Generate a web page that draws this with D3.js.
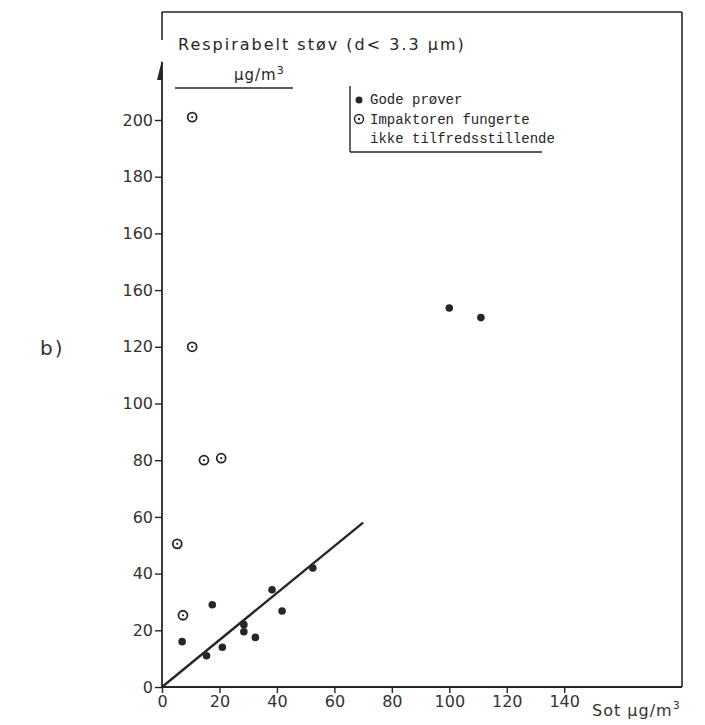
<!DOCTYPE html>
<html>
<head>
<meta charset="utf-8">
<script src="https://cdn.jsdelivr.net/npm/d3@7"></script>
<style>
  body { margin: 0; background: #fff; }
</style>
</head>
<body>
<div id="container"></div>
<script>
// data (b)
let goodX = [7, 17.5, 15.5, 21, 28.5, 28.5, 32.5, 38.3, 41.8, 52.5, 100, 111];
let goodY = [16, 29, 11, 14, 22, 19.5, 17.5, 34.3, 26.8, 42, 133.7, 130.3];
let badX = [10.5, 10.5, 5.3, 7.3, 14.6, 20.6];
let badY = [201, 120, 50.5, 25.3, 80, 80.7];
let fitX = [0, 70];
let fitY = [0, 58];
let xTicks = [0, 20, 40, 60, 80, 100, 120, 140];
let yTicks = [0, 20, 40, 60, 80, 100, 120, 140, 160, 180, 200];
// the original has "160" printed twice (140 is mislabelled)
let yTickLabels = ["0", "20", "40", "60", "80", "100", "120", "160", "160", "180", "200"];
let legendLabels = ["Gode prøver", "Impaktoren fungerte", "ikke tilfredsstillende"];

let ink = "#262626";

let viz = d3.select("#container")
  .append("svg")
    .attr("width", 705)
    .attr("height", 725)
;

let x = d3.scaleLinear().domain([0, 181]).range([162, 682]);
let y = d3.scaleLinear().domain([0, 200]).range([687, 120]);

//frame
viz.append("line")
    .attr("x1", x(0)).attr("y1", 12)
    .attr("x2", 682).attr("y2", 12)
    .attr("stroke", ink).attr("stroke-width", 1.6);
viz.append("line")
    .attr("x1", 682).attr("y1", 12)
    .attr("x2", 682).attr("y2", y(0))
    .attr("stroke", ink).attr("stroke-width", 1.6);
viz.append("line")
    .attr("x1", x(0)).attr("y1", 12)
    .attr("x2", x(0)).attr("y2", 40)
    .attr("stroke", ink).attr("stroke-width", 1.6);

//axes
let yAxis = viz.append("g")
    .attr("transform", "translate(" + x(0) + ",0)")
    .call(d3.axisLeft(y).tickValues(yTicks).tickSize(7).tickPadding(2)
      .tickFormat((d, i) => yTickLabels[i]));

let xAxis = viz.append("g")
    .attr("transform", "translate(0," + y(0) + ")")
    .call(d3.axisBottom(x).tickValues(xTicks).tickSize(6).tickPadding(3));

[xAxis, yAxis].forEach(g => {
  g.select(".domain").remove();
  g.selectAll(".tick line").attr("stroke", ink).attr("stroke-width", 1.4);
  g.selectAll(".tick text")
    .attr("fill", "#333")
    .attr("font-family", "DejaVu Sans")
    .attr("font-size", 16);
});

viz.append("line")
    .attr("x1", x(0)).attr("y1", 62)
    .attr("x2", x(0)).attr("y2", y(0))
    .attr("stroke", ink).attr("stroke-width", 1.8);
viz.append("line")
    .attr("x1", x(0)).attr("y1", y(0))
    .attr("x2", 682).attr("y2", y(0))
    .attr("stroke", ink).attr("stroke-width", 1.8);

// arrow head on the y axis
viz.append("path")
    .attr("d", "M" + (x(0) - 5) + ",80 L" + x(0) + ",60 L" + (x(0) + 1) + ",80 Z")
    .attr("fill", ink);

//axis titles
viz.append("text")
    .text("Respirabelt støv (d< 3.3 µm)")
    .attr("font-family", "DejaVu Sans")
    .attr("font-size", 16)
    .attr("letter-spacing", 2)
    .attr("fill", ink)
    .attr("x", 178)
    .attr("y", 50);

viz.append("text")
    .text("µg/m")
    .attr("font-family", "DejaVu Sans")
    .attr("font-size", 15)
    .attr("letter-spacing", 1)
    .attr("fill", ink)
    .attr("x", 234)
    .attr("y", 80)
  .append("tspan")
    .text("3")
    .attr("font-size", 11)
    .attr("dy", -6);

viz.append("line")
    .attr("x1", 175).attr("y1", 88)
    .attr("x2", 293).attr("y2", 88)
    .attr("stroke", ink).attr("stroke-width", 1.4);

viz.append("text")
    .text("Sot µg/m")
    .attr("font-family", "DejaVu Sans")
    .attr("font-size", 16)
    .attr("letter-spacing", 1)
    .attr("fill", "#333")
    .attr("x", 592)
    .attr("y", 716)
  .append("tspan")
    .text("3")
    .attr("font-size", 11)
    .attr("dy", -7);

viz.append("text")
    .text("b)")
    .attr("font-family", "DejaVu Sans")
    .attr("font-size", 20)
    .attr("letter-spacing", 2)
    .attr("fill", "#333")
    .attr("x", 40)
    .attr("y", 355);

//regression line
viz.append("line")
    .attr("x1", x(fitX[0])).attr("y1", y(fitY[0]))
    .attr("x2", x(fitX[1])).attr("y2", y(fitY[1]))
    .attr("stroke", ink)
    .attr("stroke-width", 2.4);

//good samples
viz.selectAll(".good")
  .data(d3.range(goodX.length))
  .enter()
  .append("circle")
    .attr("class", "good")
    .attr("cx", i => x(goodX[i]))
    .attr("cy", i => y(goodY[i]))
    .attr("r", 3.8)
    .attr("fill", ink);

//impactor did not work properly
let bad = viz.selectAll(".bad")
  .data(d3.range(badX.length))
  .enter()
  .append("g")
    .attr("class", "bad")
    .attr("transform", i => "translate(" + x(badX[i]) + "," + y(badY[i]) + ")");
bad.append("circle")
    .attr("r", 4.5)
    .attr("fill", "none")
    .attr("stroke", ink)
    .attr("stroke-width", 1.8);
bad.append("circle")
    .attr("r", 1.1)
    .attr("fill", ink);

//legend
viz.append("line")
    .attr("x1", 350).attr("y1", 86)
    .attr("x2", 350).attr("y2", 152)
    .attr("stroke", ink).attr("stroke-width", 1.4);
viz.append("line")
    .attr("x1", 350).attr("y1", 152)
    .attr("x2", 542).attr("y2", 152)
    .attr("stroke", ink).attr("stroke-width", 1.4);

viz.append("circle")
    .attr("cx", 359).attr("cy", 100)
    .attr("r", 3.5)
    .attr("fill", ink);
viz.append("circle")
    .attr("cx", 359).attr("cy", 119)
    .attr("r", 4.5)
    .attr("fill", "none")
    .attr("stroke", ink)
    .attr("stroke-width", 1.5);
viz.append("circle")
    .attr("cx", 359).attr("cy", 119)
    .attr("r", 1.2)
    .attr("fill", ink);

viz.selectAll(".legend")
  .data(legendLabels)
  .enter()
  .append("text")
    .attr("class", "legend")
    .text(d => d)
    .attr("font-family", "Liberation Mono")
    .attr("font-size", 14)
    .attr("fill", ink)
    .attr("x", 370)
    .attr("y", (d, i) => 104 + i * 19.5);
</script>
</body>
</html>
